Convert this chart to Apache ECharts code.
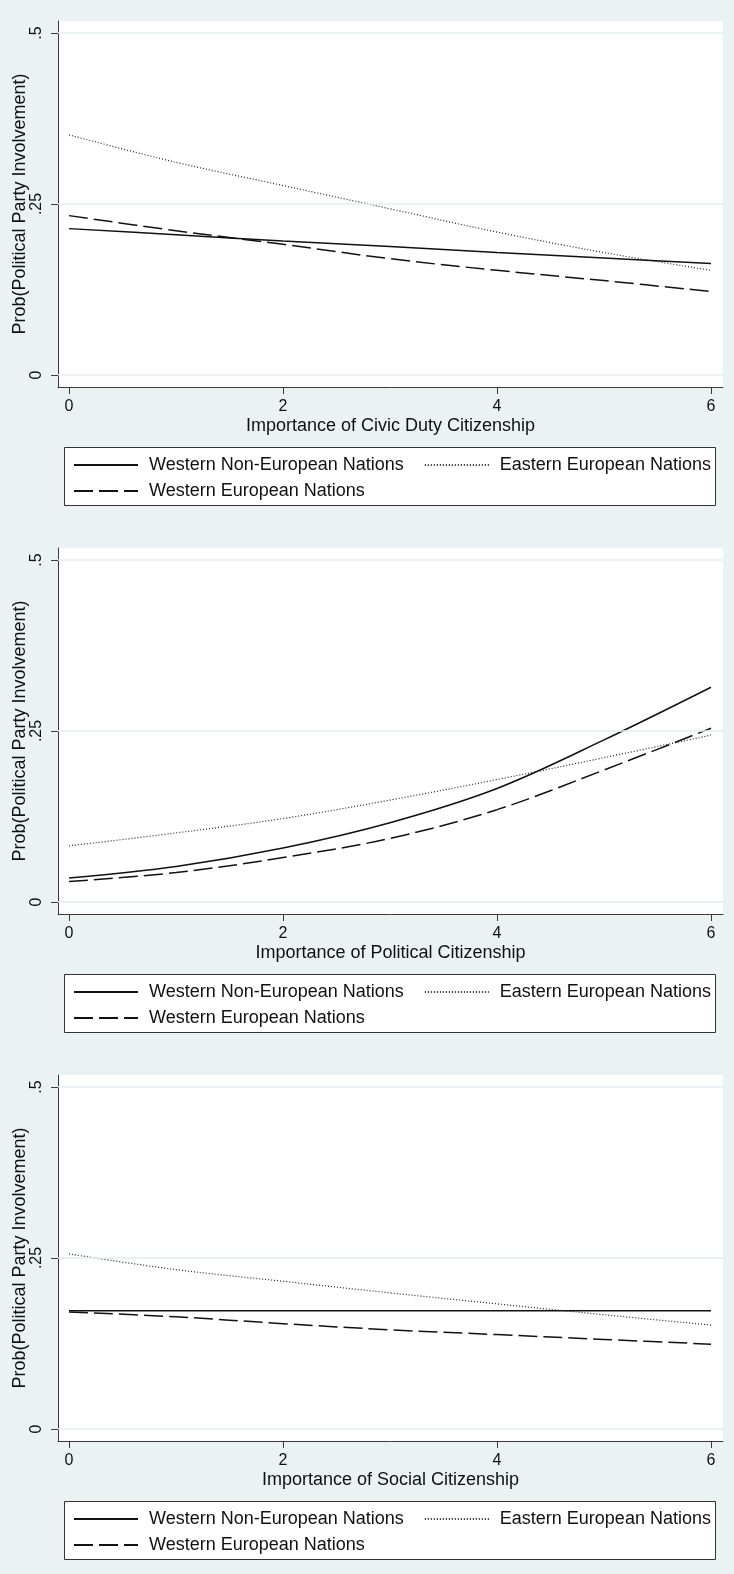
<!DOCTYPE html>
<html>
<head>
<meta charset="utf-8">
<script src="https://cdn.jsdelivr.net/npm/echarts@6/dist/echarts.min.js"></script>
<style>
html,body{margin:0;padding:0;background:#eaf2f3;}
#chart{width:734px;height:1574px;}
</style>
</head>
<body>
<div id="chart"></div>
<script>
// ---- data ----
const xValues = [0, 1, 2, 3, 4, 5, 6];
const xTicks = [0, 2, 4, 6];
const yTicks = [0, 0.25, 0.5];
const yTickLabels = ['0', '.25', '.5'];
const seriesNames = ['Western Non-European Nations', 'Eastern European Nations', 'Western European Nations'];
const xTitles = ['Importance of Civic Duty Citizenship', 'Importance of Political Citizenship', 'Importance of Social Citizenship'];
const yTitle = 'Prob(Political Party Involvement)';

const civicNonEuro  = [0.214, 0.205, 0.196, 0.188, 0.179, 0.171, 0.163];
const civicEastern  = [0.351, 0.311, 0.277, 0.243, 0.209, 0.179, 0.153];
const civicWestern  = [0.233, 0.211, 0.191, 0.170, 0.153, 0.138, 0.122];

const politicalNonEuro = [0.035, 0.052, 0.079, 0.116, 0.166, 0.237, 0.314];
const politicalEastern = [0.082, 0.101, 0.122, 0.149, 0.179, 0.211, 0.244];
const politicalWestern = [0.030, 0.043, 0.065, 0.093, 0.135, 0.193, 0.254];

const socialNonEuro = [0.173, 0.173, 0.173, 0.173, 0.173, 0.173, 0.173];
const socialEastern = [0.256, 0.233, 0.216, 0.199, 0.183, 0.167, 0.152];
const socialWestern = [0.171, 0.164, 0.154, 0.145, 0.138, 0.131, 0.124];

const panelData = [
  [civicNonEuro, civicEastern, civicWestern],
  [politicalNonEuro, politicalEastern, politicalWestern],
  [socialNonEuro, socialEastern, socialWestern]
];

// ---- layout / style ----
const FONT = "'Liberation Sans', Arial, sans-serif";
const PANEL_STEP = 527;
const GRID_TOP = 21, GRID_LEFT = 58, GRID_W = 665, GRID_H = 366;
const PX_PER_X = 107, PX_PER_Y = 684;
const X_MIN = -11 / PX_PER_X, X_MAX = 6 + 12 / PX_PER_X;
const Y_MIN = -12 / PX_PER_Y, Y_MAX = 0.5 + 12 / PX_PER_Y;
const AXIS_COLOR = '#3a3a3a';
const TEXT_COLOR = '#111';

const lineStyles = [
  { color: '#111', width: 1.5, type: 'solid' },
  { color: '#222', width: 1.2, type: [1, 2] },
  { color: '#111', width: 1.5, type: [19, 6] }
];

const grid = [], xAxis = [], yAxis = [], series = [], legend = [], graphic = [];

panelData.forEach((data, k) => {
  const off = k * PANEL_STEP;
  grid.push({
    left: GRID_LEFT, top: GRID_TOP + off, width: GRID_W, height: GRID_H,
    show: true, backgroundColor: '#ffffff', borderWidth: 0, containLabel: false
  });
  xAxis.push({
    type: 'value', gridIndex: k, min: X_MIN, max: X_MAX,
    name: xTitles[k], nameLocation: 'middle', nameGap: 30, nameMoveOverlap: false,
    nameTextStyle: { fontSize: 18, color: TEXT_COLOR, fontFamily: FONT },
    axisLine: { show: true, onZero: false, lineStyle: { color: AXIS_COLOR, width: 1 } },
    axisTick: { show: true, length: 7, customValues: xTicks, lineStyle: { color: AXIS_COLOR } },
    axisLabel: { show: true, customValues: xTicks, fontSize: 16, margin: 12, color: TEXT_COLOR, fontFamily: FONT,
      formatter: v => String(v) },
    splitLine: { show: false }
  });
  yAxis.push({
    type: 'value', gridIndex: k, min: Y_MIN, max: Y_MAX,
    name: yTitle, nameLocation: 'middle', nameGap: 29, nameRotate: 90, nameMoveOverlap: false,
    nameTextStyle: { fontSize: 18, color: TEXT_COLOR, fontFamily: FONT },
    axisLine: { show: true, onZero: false, lineStyle: { color: AXIS_COLOR, width: 1 } },
    axisTick: { show: true, length: 7, customValues: yTicks, lineStyle: { color: AXIS_COLOR } },
    axisLabel: { show: true, customValues: yTicks, rotate: 90, fontSize: 16, margin: 13, color: TEXT_COLOR, fontFamily: FONT,
      formatter: v => { const i = yTicks.findIndex(t => Math.abs(t - v) < 1e-9); return i >= 0 ? yTickLabels[i] : ''; } },
    splitLine: { show: false }
  });
  // gridlines holder
  series.push({
    type: 'line', name: 'grid' + k, xAxisIndex: k, yAxisIndex: k, data: [], z: 1, silent: true,
    markLine: {
      silent: true, symbol: 'none', label: { show: false },
      lineStyle: { color: '#e4eef0', width: 1.5, type: 'solid' },
      data: yTicks.map(v => ({ yAxis: v }))
    }
  });
  data.forEach((vals, i) => {
    series.push({
      type: 'line', name: seriesNames[i], xAxisIndex: k, yAxisIndex: k, z: 3,
      data: xValues.map((x, j) => [x, vals[j]]),
      smooth: 0.35, symbol: 'none', showSymbol: false, silent: true,
      lineStyle: lineStyles[i], itemStyle: { color: lineStyles[i].color }
    });
  });
  graphic.push({
    type: 'rect', z: 0,
    shape: { x: 64.5, y: 447.5 + off, width: 651, height: 58 },
    style: { fill: '#ffffff', stroke: '#333', lineWidth: 1 }
  });
  const legBase = {
    orient: 'horizontal', left: 73, itemWidth: 64, itemHeight: 14, itemGap: 20, padding: 0,
    selectedMode: false, z: 5,
    itemStyle: { opacity: 0 },
    lineStyle: { inactiveWidth: 1 },
    textStyle: { fontSize: 18, color: TEXT_COLOR, fontFamily: FONT, padding: [0, 0, 0, 6], lineHeight: 20 }
  };
  legend.push(Object.assign({}, legBase, { top: 455 + off, data: [seriesNames[0], seriesNames[1]] }));
  legend.push(Object.assign({}, legBase, { top: 481 + off, data: [seriesNames[2]] }));
});

const chart = echarts.init(document.getElementById('chart'), null, { renderer: 'canvas' });
chart.setOption({
  backgroundColor: '#eaf2f3',
  animation: false,
  grid, xAxis, yAxis, series, legend, graphic
});
</script>
</body>
</html>
